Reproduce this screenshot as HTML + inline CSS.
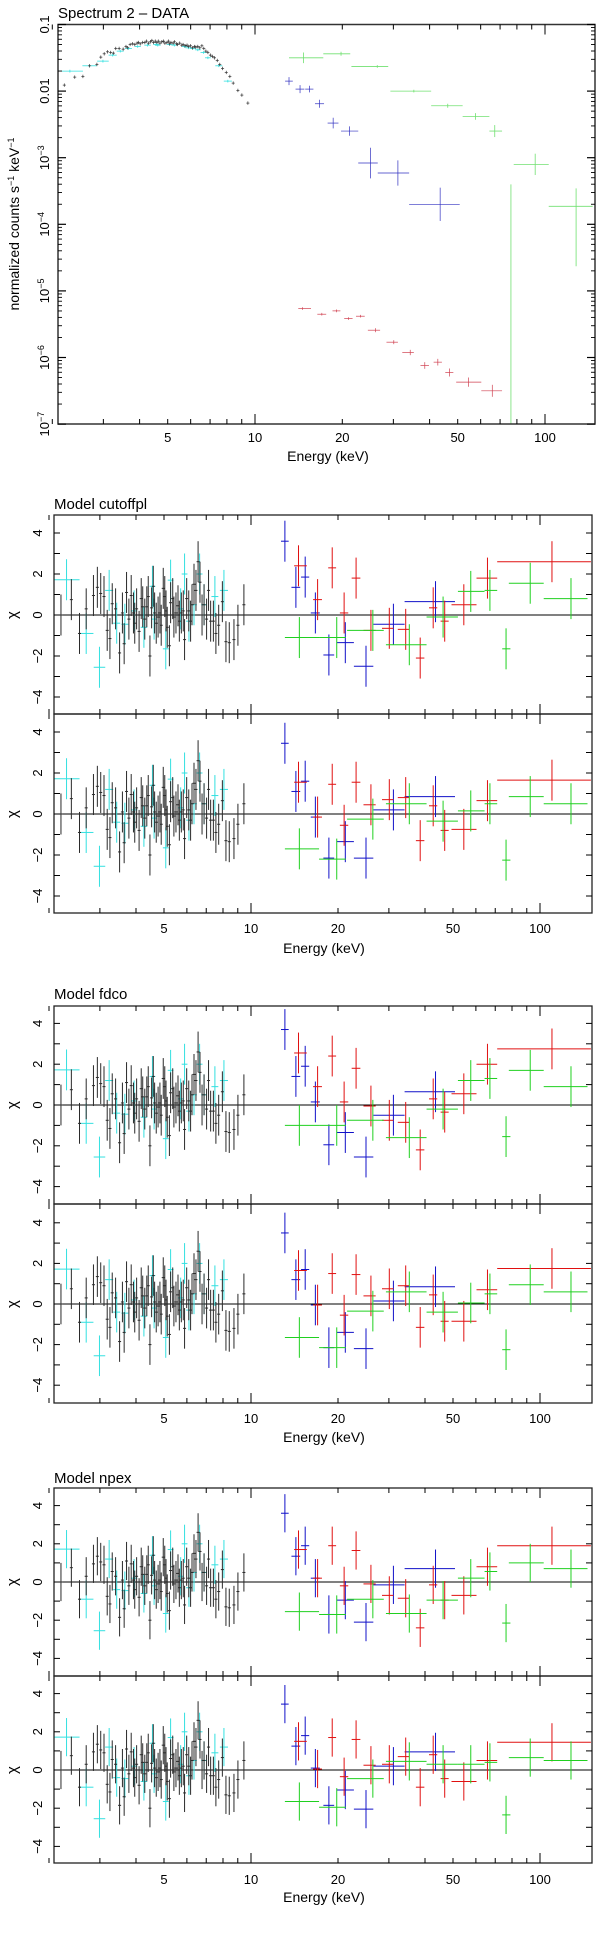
<!DOCTYPE html>
<html><head><meta charset="utf-8"><style>
html,body{margin:0;padding:0;background:#fff;}
svg{display:block;font-family:"Liberation Sans",sans-serif;}
</style></head><body>
<svg id="chart" width="600" height="1936" viewBox="0 0 600 1936" xmlns="http://www.w3.org/2000/svg"></svg>
<script>
// ---------- data ----------
const blackE=[2.20,2.39,2.55,2.69,2.85,2.94,3.02,3.10,3.18,3.25,3.31,3.40,3.51,3.59,3.64,3.71,3.78,3.85,3.92,3.96,4.02,4.10,4.17,4.22,4.29,4.36,4.41,4.47,4.53,4.59,4.64,4.70,4.77,4.84,4.89,4.97,5.03,5.08,5.13,5.22,5.27,5.36,5.41,5.50,5.59,5.65,5.74,5.83,5.89,5.99,6.09,6.18,6.25,6.35,6.45,6.56,6.66,6.77,6.88,7.02,7.13,7.25,7.41,7.56,7.73,7.96,8.19,8.41,8.73,9.01,9.45];
const blackTop=[-1.91,-1.79,-1.78,-1.62,-1.60,-1.49,-1.44,-1.41,-1.42,-1.43,-1.36,-1.36,-1.37,-1.33,-1.35,-1.30,-1.29,-1.30,-1.28,-1.27,-1.29,-1.27,-1.27,-1.25,-1.28,-1.26,-1.24,-1.27,-1.25,-1.27,-1.25,-1.28,-1.26,-1.25,-1.28,-1.27,-1.25,-1.29,-1.27,-1.28,-1.26,-1.29,-1.30,-1.28,-1.31,-1.30,-1.32,-1.31,-1.33,-1.32,-1.35,-1.33,-1.34,-1.33,-1.35,-1.32,-1.36,-1.40,-1.42,-1.46,-1.48,-1.50,-1.54,-1.60,-1.66,-1.72,-1.78,-1.88,-1.99,-2.06,-2.18];
const blackChi=[0.0,0.75,-0.9,0.3,0.95,1.35,1.05,0.9,-0.75,-1.15,0.55,0.3,-1.85,0.1,-1.4,1.1,-0.2,0.95,0.1,-0.4,0.3,-0.8,0.8,0.4,-0.2,0.4,0.9,-2.0,0.35,1.4,0.1,-0.4,-0.1,0.1,-0.5,1.3,0.9,0.2,-0.6,-1.5,0.6,0.8,-0.1,0.1,0.45,-0.3,0.1,0.2,-1.2,0.8,0.2,-0.3,0.5,1.5,1.2,2.6,1.6,0.0,0.5,-0.2,1.2,-0.3,-0.3,-0.9,-0.5,0.65,-1.3,-1.35,-1.2,-0.5,0.5];

const cyanE=[2.30,2.69,2.99,3.23,3.43,3.66,3.94,4.26,4.56,4.62,5.07,5.27,5.71,5.89,6.10,6.35,6.64,6.88,7.50,8.06];
const cyanHalfDex=[0.045,0.025,0.02,0.014,0.012,0.012,0.011,0.011,0.010,0.010,0.010,0.010,0.010,0.010,0.010,0.010,0.010,0.010,0.012,0.014];
const cyanTop=[-1.70,-1.62,-1.55,-1.46,-1.40,-1.36,-1.33,-1.31,-1.30,-1.31,-1.30,-1.31,-1.33,-1.35,-1.36,-1.38,-1.42,-1.50,-1.62,-1.85];
const cyanChi=[1.72,-0.9,-2.55,1.2,-0.4,-0.45,0.2,-0.6,1.4,-0.2,-1.65,1.7,0.3,2.0,-0.3,0.5,2.0,0.5,0.9,1.2];

const blueE=[13.1,14.3,15.4,16.7,18.6,21.2,25.0,31.1,43.5];
const blueLo=[12.7,13.8,14.9,16.1,17.8,19.8,22.7,26.5,34.0];
const blueHi=[13.5,14.8,15.9,17.3,19.4,22.7,26.5,34.0,50.8];
const blueTop=[-1.85,-1.97,-1.97,-2.19,-2.48,-2.60,-3.08,-3.23,-3.70];
const blueTopErr=[0.06,0.06,0.05,0.06,0.08,0.07,0.23,0.19,0.25];

const redE=[14.6,17.0,19.1,21.0,23.1,26.0,30.1,34.3,38.5,42.7,46.8,54.5,65.8,110];
const redLo=[14.1,16.4,18.5,20.3,22.3,24.5,28.4,32.2,37.2,41.3,45.3,49.4,60.3,71.1];
const redHi=[15.6,17.6,19.7,21.7,23.9,27.0,31.1,35.3,39.8,44.1,48.3,60.3,71.1,150];
const redTop=[-5.265,-5.35,-5.30,-5.415,-5.38,-5.59,-5.77,-5.925,-6.12,-6.07,-6.225,-6.37,-6.50,-7.6];
const redTopErr=[0.02,0.02,0.02,0.02,0.02,0.03,0.03,0.04,0.05,0.05,0.06,0.07,0.09,0.1];

const greenE=[14.7,19.8,26.4,35.3,46.2,57.6,67.1,76.3,92.5,128];
const greenLo=[13.1,17.2,21.5,29.3,40.5,52.0,64.3,74.0,78,103];
const greenHi=[17.2,21.3,28.8,40.5,52.0,64.3,71.1,79.0,103,146];
const greenTop=[-1.50,-1.44,-1.63,-2.00,-2.22,-2.38,-2.60,-7.5,-3.10,-3.73];
const greenTopUp=[0.08,0.03,0.02,0.02,0.03,0.05,0.09,4.1,0.16,0.27];
const greenTopDn=[0.08,0.03,0.02,0.02,0.03,0.05,0.09,1.0,0.16,0.9];

const blueCutA=[3.6,1.35,1.85,0.1,-1.95,-1.35,-2.5,-0.45,0.65];
const blueCutB=[3.45,1.1,1.6,-0.15,-2.15,-1.35,-2.15,0.2,0.85];
const blueFdcoA=[3.7,1.4,1.9,0.15,-1.95,-1.35,-2.55,-0.5,0.65];
const blueFdcoB=[3.5,1.2,1.7,-0.05,-2.15,-1.4,-2.2,0.15,0.85];
const blueNpexA=[3.6,1.35,1.9,0.2,-1.7,-0.95,-2.1,-0.15,0.7];
const blueNpexB=[3.45,1.25,1.8,0.1,-1.85,-1.05,-2.05,0.2,0.95];

const redCutA=[2.4,0.75,2.3,0.1,1.8,-0.75,-0.65,-0.7,-2.1,0.35,-0.3,0.5,1.8,2.6];
const redCutB=[1.55,-0.15,1.45,-0.55,1.55,0.45,0.7,0.8,-1.3,0.4,-0.8,-0.75,0.65,1.65];
const redFdcoA=[2.55,0.9,2.4,0.15,1.8,-0.05,-0.75,-0.85,-2.2,0.3,-0.35,0.55,2.0,2.75];
const redFdcoB=[1.65,-0.05,1.5,-0.55,1.45,0.4,0.75,0.9,-1.15,0.45,-0.85,-0.85,0.7,1.75];
const redNpexA=[1.7,0.2,1.9,-0.2,1.65,-0.1,-0.7,-0.85,-2.4,-0.15,-0.95,-0.7,0.8,1.9];
const redNpexB=[1.5,0.05,1.7,-0.35,1.6,0.25,0.3,0.7,-0.9,0.8,-0.45,-0.6,0.5,1.45];

const greenCutA=[-1.1,-1.1,-0.75,-1.45,-0.1,1.15,1.2,-1.65,1.55,0.8];
const greenCutB=[-1.7,-2.2,-0.25,0.5,-0.35,0.15,0.5,-2.25,0.85,0.5];
const greenFdcoA=[-1.0,-1.0,-0.75,-1.6,-0.2,1.2,1.3,-1.55,1.7,0.9];
const greenFdcoB=[-1.65,-2.15,-0.35,0.6,-0.4,0.05,0.5,-2.25,0.95,0.6];
const greenNpexA=[-1.55,-1.7,-0.9,-1.65,-0.95,0.2,0.55,-2.15,1.0,0.7];
const greenNpexB=[-1.65,-1.95,-0.45,0.45,0.3,0.3,0.4,-2.35,0.65,0.5];

const xTickE=[2,3,4,5,6,7,8,9,10,20,30,40,50,60,70,80,90,100];
const xLabels=[5,10,20,50,100];
const chiTicks=[-4,-3,-2,-1,0,1,2,3,4];
const chiLabels=[-4,-2,0,2,4];
const decades=[-1,-2,-3,-4,-5,-6,-7];
const decadeLabels=["0.1","0.01","10|−3","10|−4","10|−5","10|−6","10|−7"];

// ---------- helpers ----------
const NS="http://www.w3.org/2000/svg";
const svg=document.getElementById('chart');
function mk(tag,attrs,parent){const e=document.createElementNS(NS,tag);for(const k in attrs)e.setAttribute(k,attrs[k]);(parent||svg).appendChild(e);return e;}
function line(p,x1,y1,x2,y2,stroke,w){return mk('line',{x1:x1,y1:y1,x2:x2,y2:y2,stroke:stroke,'stroke-width':w||1},p);}
const L=Math.log10;
const COL={black:'#222',cyan:'#33e0e0',blue:'#1010c8',red:'#e01010',green:'#20d020'};

// ---------- top panel ----------
const TP={l:58,r:595,t:24.5,b:424};
const xTop=e=>255+(L(e)-1)*290;
const yTop=v=>24.5+(-1-v)*66.6;
let clipN=0;
function clip(l,t,r,b){const id='c'+(clipN++);const cp=mk('clipPath',{id:id});mk('rect',{x:l,y:t,width:r-l,height:b-t},cp);return 'url(#'+id+')';}

const title=mk('text',{x:58,y:18,'font-size':15,fill:'#000'});
title.textContent='Spectrum 2 – DATA';



const topG=mk('g',{});


const topData=mk('g',{'clip-path':clip(TP.l,TP.t,TP.r,TP.b)},topG);



function topSeries(name,E,lo,hi,val,up,dn,col,w){
  const g=mk('g',{},topData);
  
  
  for(let i=0;i<E.length;i++){
    const x=xTop(E[i]),y=yTop(val[i]);
    line(g,xTop(lo[i]),y,xTop(hi[i]),y,col,w);
    line(g,x,yTop(val[i]+up[i]),x,yTop(val[i]-dn[i]),col,w);
  }
}
topSeries('cyan-spectrum',cyanE,cyanE.map((e,i)=>e/Math.pow(10,cyanHalfDex[i])),cyanE.map((e,i)=>e*Math.pow(10,cyanHalfDex[i])),cyanTop,cyanTop.map(()=>0.02),cyanTop.map(()=>0.02),COL.cyan,0.8);
topSeries('black-spectrum',blackE,blackE.map(e=>e*0.988),blackE.map(e=>e*1.012),blackTop,blackTop.map(()=>0.025),blackTop.map(()=>0.025),'#333',0.7);
topSeries('blue-spectrum',blueE,blueLo,blueHi,blueTop,blueTopErr,blueTopErr,'#3030c0',0.7);
topSeries('green-spectrum',greenE,greenLo,greenHi,greenTop,greenTopUp,greenTopDn,'#70e070',0.8);
topSeries('red-spectrum',redE,redLo,redHi,redTop,redTopErr,redTopErr,'#d04050',0.7);

mk('rect',{x:TP.l,y:TP.t,width:TP.r-TP.l,height:TP.b-TP.t,fill:'none',stroke:'#333','stroke-width':1.5},topG);
decades.forEach((d,i)=>{
  const y=yTop(d);
  line(topG,TP.l,y,TP.l+8,y,'#000',1.2);line(topG,TP.r,y,TP.r-8,y,'#000',1.2);
  if(d>-7){for(let m=2;m<=9;m++){const ym=yTop(d-1+L(m));line(topG,TP.l,ym,TP.l+4,ym,'#000',0.9);line(topG,TP.r,ym,TP.r-4,ym,'#000',0.9);}}
  const parts=decadeLabels[i].split('|');
  const t=mk('text',{x:49,y:y,'font-size':13,'text-anchor':'middle',transform:'rotate(-90 49 '+y+')'},topG);
  
  
  t.textContent=parts[0];
  if(parts[1]){const s=mk('tspan',{'font-size':9,dy:-5},t);s.textContent=parts[1];}
});
xTickE.forEach(e=>{const x=xTop(e),big=(e===10||e===100);line(topG,x,TP.b,x,TP.b-(big?10:5),'#000',1);line(topG,x,TP.t,x,TP.t+(big?10:5),'#000',1);});
xLabels.forEach(e=>{const t=mk('text',{x:xTop(e),y:442,'font-size':13,'text-anchor':'middle'},topG);t.textContent=e;
  
  });
const xt=mk('text',{x:328,y:461,'font-size':14,'text-anchor':'middle'},topG);xt.textContent='Energy (keV)';


const yt=mk('text',{x:19,y:224,'font-size':14,'text-anchor':'middle',transform:'rotate(-90 19 224)'},topG);


yt.appendChild(document.createTextNode('normalized counts s'));
let s1=mk('tspan',{'font-size':9,dy:-5},yt);s1.textContent='−1';
let s2=mk('tspan',{dy:5},yt);s2.textContent=' keV';
let s3=mk('tspan',{'font-size':9,dy:-5},yt);s3.textContent='−1';

// ---------- residual panels ----------
const RL=54,RR=592;
const xRes=e=>251+(L(e)-1)*289;
const groups=[
 {name:'cutoffpl',title:'Model cutoffpl',ty:509,
  panels:[{t:515,b:714,z:615,u:20.5,blue:blueCutA,red:redCutA,green:greenCutA},{t:714,b:913,z:814,u:20.5,blue:blueCutB,red:redCutB,green:greenCutB}],lab:928,etitle:948},
 {name:'fdco',title:'Model fdco',ty:999,
  panels:[{t:1006,b:1204,z:1105,u:20.4,blue:blueFdcoA,red:redFdcoA,green:greenFdcoA},{t:1204,b:1403,z:1304,u:20.3,blue:blueFdcoB,red:redFdcoB,green:greenFdcoB}],lab:1418,etitle:1437},
 {name:'npex',title:'Model npex',ty:1483,
  panels:[{t:1488,b:1676,z:1582,u:19.1,blue:blueNpexA,red:redNpexA,green:greenNpexA},{t:1676,b:1863,z:1770,u:19.1,blue:blueNpexB,red:redNpexB,green:greenNpexB}],lab:1879,etitle:1897}
];

function resSeries(parent,name,E,lo,hi,chi,yf,col,w){
  const g=mk('g',{},parent);
  
  
  for(let i=0;i<E.length;i++){
    const x=xRes(E[i]),y=yf(chi[i]);
    line(g,xRes(lo[i]),y,xRes(hi[i]),y,col,w);
    line(g,x,yf(chi[i]+1),x,yf(chi[i]-1),col,w);
  }
}

groups.forEach(G=>{
  const gg=mk('g',{});
  
  
  const tt=mk('text',{x:54,y:G.ty,'font-size':15},gg);tt.textContent=G.title;
  
  
  G.panels.forEach((P,pi)=>{
    const pg=mk('g',{},gg);
    
    
    const yf=c=>P.z-c*P.u;
    const dg=mk('g',{'clip-path':clip(RL,P.t,RR,P.b)},pg);
    line(dg,RL,P.z,RR,P.z,'#000',1);
    resSeries(dg,'cyan-residuals',cyanE,cyanE.map((e,i)=>e/Math.pow(10,cyanHalfDex[i])),cyanE.map((e,i)=>e*Math.pow(10,cyanHalfDex[i])),cyanChi,yf,COL.cyan,1);
    resSeries(dg,'black-residuals',blackE,blackE.map(e=>e*0.988),blackE.map(e=>e*1.012),blackChi,yf,'#2a2a2a',1);
    resSeries(dg,'blue-residuals',blueE,blueLo,blueHi,P.blue,yf,COL.blue,1);
    resSeries(dg,'red-residuals',redE,redLo,redHi,P.red,yf,COL.red,1);
    resSeries(dg,'green-residuals',greenE,greenLo,greenHi,P.green,yf,COL.green,1);
    mk('rect',{x:RL,y:P.t,width:RR-RL,height:P.b-P.t,fill:'none',stroke:'#222','stroke-width':1.3},pg);
    chiTicks.forEach(c=>{const y=yf(c);line(pg,RL,y,RL+6,y,'#000',1);line(pg,RR,y,RR-6,y,'#000',1);});
    chiLabels.forEach(c=>{const y=yf(c);const t=mk('text',{x:42,y:y,'font-size':13,'text-anchor':'middle',transform:'rotate(-90 42 '+y+')'},pg);
      t.textContent=(c<0?'−':'')+Math.abs(c);
      
      });
    xTickE.forEach(e=>{const x=xRes(e),big=(e===10||e===100);line(pg,x,P.t,x,P.t+(big?10:5),'#000',1);line(pg,x,P.b,x,P.b-(big?10:5),'#000',1);});
    const ch=mk('text',{x:17,y:P.z,'font-size':15,'text-anchor':'middle',transform:'rotate(-90 17 '+P.z+')'},pg);ch.textContent='χ';
    
    
  });
  xLabels.forEach(e=>{const t=mk('text',{x:xRes(e),y:G.lab+5,'font-size':13,'text-anchor':'middle'},gg);t.textContent=e;
    
    });
  const et=mk('text',{x:324,y:G.etitle+5,'font-size':14,'text-anchor':'middle'},gg);et.textContent='Energy (keV)';
  
  
});
</script>
</body></html>
